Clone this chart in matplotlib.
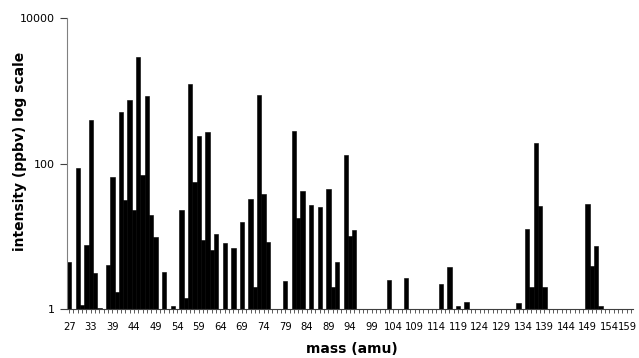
import matplotlib
matplotlib.use('Agg')
import matplotlib.pyplot as plt
from matplotlib.ticker import NullLocator, FixedLocator
import numpy as np

masses = [27, 28, 29, 30, 31, 33, 34, 35, 36, 38] + list(range(39, 160))

intensity = [
    4.4, 0, 88, 1.15, 7.6, 400, 3.15, 1.05, 0, 4.06,          # 27-38
    66, 1.74, 518, 31.7, 750, 23.1, 2920, 70, 851, 19.7,      # 39-48
    9.9, 0, 3.3, 0, 1.11, 0, 23.1, 1.42, 1244, 56,            # 49-58
    240, 8.95, 272, 6.5, 10.8, 0, 8.1, 0, 6.95, 0,            # 59-68
    15.8, 0, 32.7, 2.0, 879, 38, 8.4, 0, 0, 0,                # 69-78
    2.45, 0, 281, 18, 42, 0, 27.1, 0, 25.4, 0,                # 79-88
    44.9, 2.0, 4.47, 0, 132, 10.2, 12.3, 0, 0, 0,             # 89-98
    0, 0, 0, 0, 2.53, 0, 0, 0, 2.69, 0,                       # 99-108
    0, 0, 0, 0, 0, 0, 2.23, 0, 3.81, 0,                       # 109-118
    1.11, 0, 1.26, 0, 0, 0, 0, 0, 0, 0,                       # 119-128
    0, 0, 0, 0, 1.21, 0, 12.7, 2.0, 192, 26.2,                # 129-138
    2.0, 0, 0, 0, 0, 0, 0, 0, 0, 0,                           # 139-148
    27.9, 3.93, 7.4, 1.11, 0, 0, 0, 0, 0, 0,                  # 149-158
    0,                                                        # 159
]

ytick_values = [1, 100, 10000]
ytick_labels = ['1', '100', '10000']
label_step = 5

plt.rcParams['font.family'] = ['DejaVu Sans']

fig = plt.figure(figsize=(6.39, 3.58), dpi=100)
ax = fig.add_axes([67 / 639, 1 - 309.3 / 358, 566 / 639, (309.3 - 18.2) / 358])

x = np.arange(len(masses))
base = 1.0
heights = [v - base if v > base else 0 for v in intensity]
ax.bar(x, heights, bottom=base, width=1.0, color='black',
       edgecolor='black', linewidth=0.4)

ax.set_yscale('log')
ax.set_ylim(1, 10000)
ax.set_xlim(-0.5, len(masses) - 0.5)

ax.yaxis.set_major_locator(FixedLocator(ytick_values))
ax.set_yticklabels(ytick_labels, fontsize=8)
ax.yaxis.set_minor_locator(NullLocator())

n = len(masses)
ax.set_xticks(x)
ax.set_xticklabels([str(m) if (i % label_step == 0 and i != n - 1) else ''
                    for i, m in enumerate(masses)], fontsize=7.2)
# the last label is pulled a little inside the figure, as in the reference
if (n - 1) % label_step == 0:
    ax.annotate(str(masses[-1]), xy=(x[-1], 0), xycoords=ax.get_xaxis_transform(),
                xytext=(-2.2, -9), textcoords='offset points',
                ha='center', va='top', fontsize=7.2)

for s in ['top', 'right']:
    ax.spines[s].set_visible(False)
ax.spines['left'].set_color('#808080')
ax.spines['bottom'].set_color('#404040')
ax.tick_params(axis='y', direction='out', length=5, width=0.8, color='#404040', pad=4)
ax.tick_params(axis='x', direction='out', length=3, width=0.6, color='#404040', pad=6)

ax.set_xlabel('mass (amu)', fontsize=10, fontweight='bold')
ax.xaxis.set_label_coords((351.5 - 67) / 566, (309.3 - 342) / 291.1)
ax.set_ylabel('intensity (ppbv) log scale', fontsize=10, fontweight='bold')
ax.yaxis.set_label_coords((27 - 67) / 566, (309.3 - 151.5) / 291.1)

fig.savefig('out.png', dpi=100)
